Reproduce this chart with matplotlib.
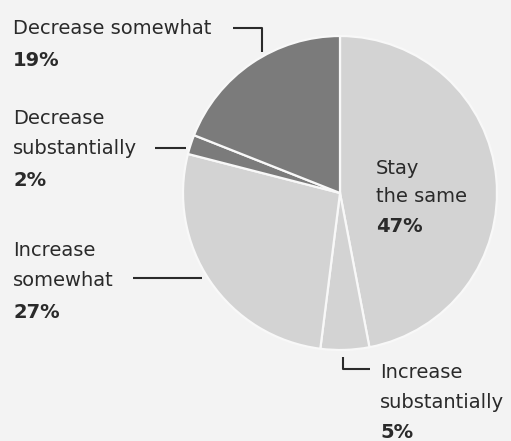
import matplotlib.pyplot as plt

# slice data, clockwise from 12 o'clock
labels = ["Stay the same", "Increase substantially", "Increase somewhat",
          "Decrease substantially", "Decrease somewhat"]
shares = [47, 5, 27, 2, 19]
colors = ["#d3d3d3", "#d3d3d3", "#d3d3d3", "#7b7b7b", "#7b7b7b"]

W, H = 511, 441
fig = plt.figure(figsize=(W / 100, H / 100), dpi=100)
fig.patch.set_facecolor("#f3f3f3")
ax = fig.add_axes([0, 0, 1, 1])
ax.set_facecolor("#f3f3f3")

cx, cy, r = 340, H - 193, 157
ax.pie(shares, colors=colors, startangle=90, counterclock=False,
       center=(cx, cy), radius=r, frame=True,
       wedgeprops=dict(edgecolor="#f8f8f8", linewidth=1.6))
ax.set_xlim(0, W)
ax.set_ylim(0, H)
ax.set_aspect("equal")
ax.axis("off")

txt = "#2a2a2a"
fs = 14


def label(x, y_top, lines, pct, step=31):
    y = y_top
    for ln in lines:
        ax.text(x, H - y, ln, fontsize=fs, color=txt, va="center", ha="left")
        y += step
    ax.text(x, H - y, pct, fontsize=fs, color=txt, va="center", ha="left",
            fontweight="bold")


def leader(xs, ys):
    ax.plot(xs, [H - y for y in ys], color=txt, lw=1.5, solid_capstyle="butt")


label(13, 28, ["Decrease somewhat"], "19%", step=32)
leader([233, 262, 262], [28, 28, 52])

label(13, 118, ["Decrease", "substantially"], "2%", step=31)
leader([155, 186], [148, 148])

label(13, 250, ["Increase", "somewhat"], "27%", step=31)
leader([133, 202], [278, 278])

label(376, 168, ["Stay", "the same"], "47%", step=29)

label(380, 373, ["Increase", "substantially"], "5%", step=30)
leader([343, 343, 370], [357, 369, 369])

fig.savefig("out.png", dpi=100, facecolor=fig.get_facecolor())
